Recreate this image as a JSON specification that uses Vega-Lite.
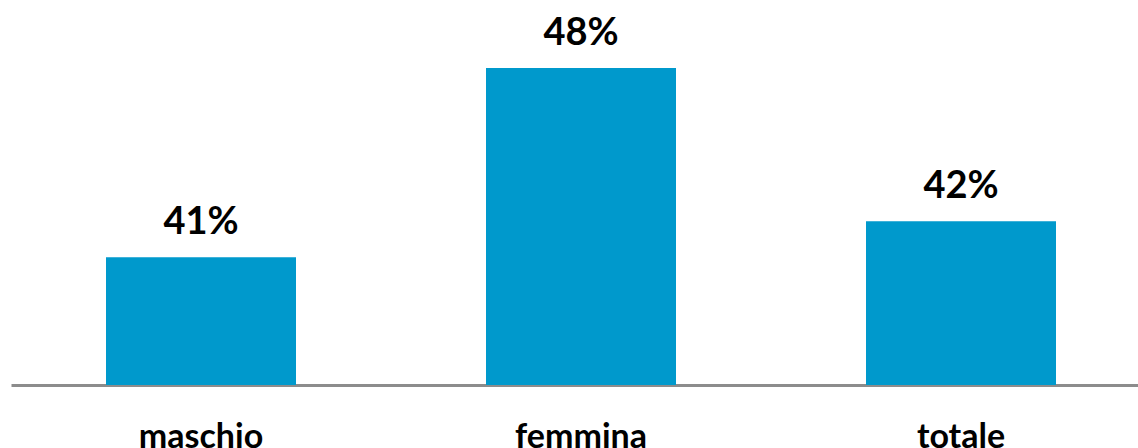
{
  "$schema": "https://vega.github.io/schema/vega-lite/v6.json",
  "autosize": "none",
  "width": 1140,
  "height": 358,
  "padding": {"left": 11, "top": 27, "right": 0, "bottom": 63},
  "background": "white",
  "config": {"view": {"stroke": null}},
  "data": {"values": [
    {"sesso": "maschio", "valore": 0.410},
    {"sesso": "femmina", "valore": 0.484},
    {"sesso": "totale", "valore": 0.424}
  ]},
  "encoding": {
    "x": {"field": "sesso", "type": "nominal", "sort": null,
      "scale": {"paddingInner": 0.5, "paddingOuter": 0.25},
      "axis": {"title": null, "labelAngle": 0, "ticks": false, "domainColor": "#8c8c8c", "domainWidth": 3,
        "labelFont": "Lato", "labelFontWeight": "bold", "labelFontSize": 34, "labelColor": "#000000",
        "labelPadding": 62, "labelBaseline": "alphabetic"}},
    "y": {"field": "valore", "type": "quantitative",
      "scale": {"domain": [0.36, 0.50], "zero": false},
      "axis": null}
  },
  "layer": [
    {"mark": {"type": "bar", "color": "#0099cc", "clip": true}},
    {"mark": {"type": "text", "font": "Lato", "fontWeight": "bold", "fontSize": 38, "color": "#000000", "baseline": "alphabetic", "dy": -23},
     "encoding": {"text": {"field": "valore", "type": "quantitative", "format": ".0%"}}}
  ]
}
